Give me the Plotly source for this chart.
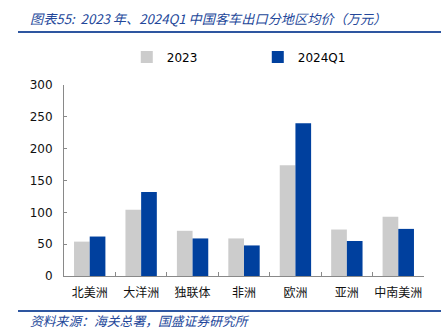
import plotly.graph_objects as go

categories = ["北美洲", "大洋洲", "独联体", "非洲", "欧洲", "亚洲", "中南美洲"]
values_2023 = [54, 104, 71, 59, 174, 73, 93]
values_2024q1 = [62, 132, 59, 48, 240, 55, 74]
series_names = ["2023", "2024Q1"]
y_ticks = [0, 50, 100, 150, 200, 250, 300]

title_text = "图表55:  2023 年、2024Q1 中国客车出口分地区均价（万元）"
source_text = "资料来源：海关总署，国盛证券研究所"

W, H = 448, 335
ML, MR, MT, MB = 64, 24, 85, 59
blue_line = "#2E56A0"
text_blue = "#23479A"

fig = go.Figure()
fig.add_trace(go.Bar(x=categories, y=values_2023, name=series_names[0],
                     marker=dict(color="#CCCCCC", line=dict(width=0))))
fig.add_trace(go.Bar(x=categories, y=values_2024q1, name=series_names[1],
                     marker=dict(color="#00409E", line=dict(width=0))))

fig.update_layout(
    width=W, height=H,
    margin=dict(l=ML, r=MR, t=MT, b=MB),
    paper_bgcolor="white", plot_bgcolor="white",
    barmode="group", bargap=0.39, bargroupgap=0,
    font=dict(family="DejaVu Sans", size=12, color="#000000"),
    showlegend=True,
    legend=dict(orientation="h", xref="container", yref="container",
                x=0.283, y=0.83, xanchor="left", yanchor="middle",
                font=dict(family="DejaVu Sans", size=12, color="#000000"),
                itemwidth=30, entrywidth=86, entrywidthmode="pixels",
                bgcolor="rgba(0,0,0,0)", traceorder="normal"),
    xaxis=dict(type="category", showline=True, linecolor="#898989", linewidth=1,
               ticks="inside", ticklen=4, tickcolor="#898989", tickson="boundaries",
               showgrid=False, zeroline=False, tickangle=0, automargin=False,
               ticklabelstandoff=6,
               tickfont=dict(family="Noto Sans CJK SC", size=12, color="#111111")),
    yaxis=dict(range=[0, 300], tickvals=y_ticks, showline=True, linecolor="#898989",
               linewidth=1, ticks="inside", ticklen=3, tickcolor="#898989",
               showgrid=False, zeroline=False, automargin=False,
               ticklabelstandoff=8,
               tickfont=dict(family="DejaVu Sans", size=12, color="#111111")),
    shapes=[
        dict(type="line", xref="paper", yref="paper",
             x0=(18 - ML) / (W - ML - MR), x1=(441 - ML) / (W - ML - MR),
             y0=(H - MB - 32) / (H - MT - MB), y1=(H - MB - 32) / (H - MT - MB),
             line=dict(color=blue_line, width=2)),
        dict(type="line", xref="paper", yref="paper",
             x0=(18 - ML) / (W - ML - MR), x1=(441 - ML) / (W - ML - MR),
             y0=(H - MB - 311) / (H - MT - MB), y1=(H - MB - 311) / (H - MT - MB),
             line=dict(color=blue_line, width=2)),
    ],
    annotations=[
        dict(text=title_text, xref="paper", yref="paper",
             x=(28 - ML) / (W - ML - MR), y=(H - MB - 18) / (H - MT - MB),
             xanchor="left", yanchor="middle", showarrow=False,
             font=dict(family="Noto Sans CJK SC", size=13.2, color=text_blue, style="italic")),
        dict(text=source_text, xref="paper", yref="paper",
             x=(28 - ML) / (W - ML - MR), y=(H - MB - 320) / (H - MT - MB),
             xanchor="left", yanchor="middle", showarrow=False,
             font=dict(family="Noto Sans CJK SC", size=12.8, color=text_blue, style="italic")),
    ],
)

fig.write_html("out.html")
